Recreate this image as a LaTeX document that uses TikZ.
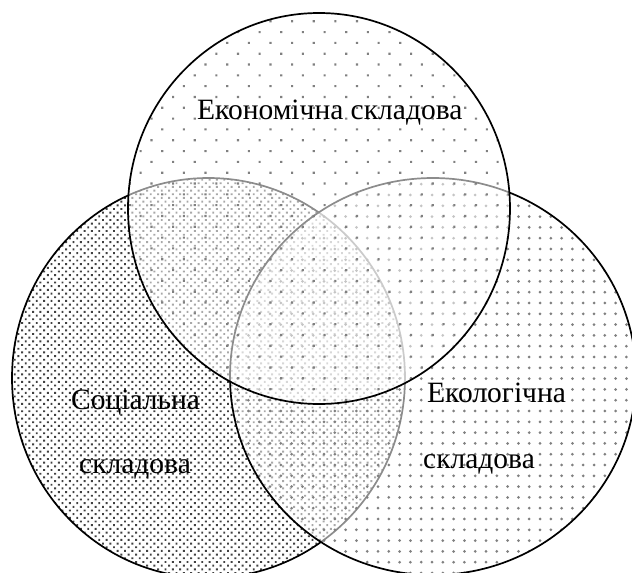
\documentclass[tikz,border=0pt]{standalone}
\usepackage{fontspec}
\setmainfont{Liberation Serif}
\usetikzlibrary{patterns.meta}
\begin{document}
\begin{tikzpicture}[x=1pt,y=-1pt,
  lbl/.style={font=\fontsize{29.5}{35}\selectfont, inner sep=0pt, anchor=base west},
  cover/.style={fill=white, fill opacity=0.55},
  rim/.style={draw=black, line width=1.7pt},
  socdots/.style={pattern={Dots[angle=45,distance=5.2pt,radius=1.35pt]}, pattern color=black!75},
  ecodots/.style={pattern={Dots[angle=45,distance=15.3pt,radius=1.5pt]}, pattern color=black!50},
  envdots/.style={pattern={Dots[distance=10.8pt,radius=1.5pt]}, pattern color=black!50}]
\useasboundingbox (0,0) rectangle (632,573);
\clip (0,0) rectangle (632,573);
% social (left)
\fill[socdots] (208.5,378) ellipse [x radius=196.5pt, y radius=200pt];
\path[rim] (208.5,378) ellipse [x radius=196.5pt, y radius=200pt];
% ecological (right)
\path[cover] (433,376.5) ellipse [x radius=203pt, y radius=198.5pt];
\fill[envdots] (433,376.5) ellipse [x radius=203pt, y radius=198.5pt];
\path[rim] (433,376.5) ellipse [x radius=203pt, y radius=198.5pt];
% economic (top)
\path[cover] (319,208.5) ellipse [x radius=191pt, y radius=195.5pt];
\fill[ecodots] (319,208.5) ellipse [x radius=191pt, y radius=195.5pt];
\path[rim] (319,208.5) ellipse [x radius=191pt, y radius=195.5pt];
% labels
\node[lbl] (eco) at (197,119) {Економічна складова};
\node[lbl] (soc1) at (71,409) {Соціальна};
\node[lbl] (soc2) at (79,473) {складова};
\node[lbl] (env1) at (427,402) {Екологічна};
\node[lbl] (env2) at (423,468) {складова};
\end{tikzpicture}
\end{document}
